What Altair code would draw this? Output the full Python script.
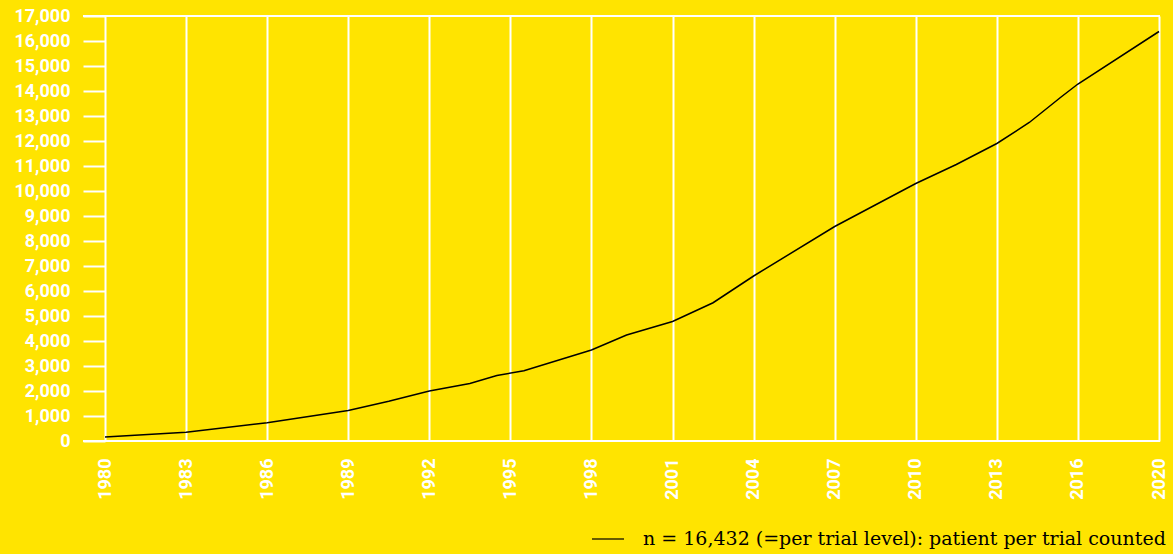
import altair as alt
import pandas as pd
import jinja2

# Data
years = [1980, 1983, 1986, 1989, 1990.5, 1992, 1993.5, 1994.5, 1995.5, 1998,
         1999.3, 2001, 2002.5, 2004, 2007, 2010, 2011.5, 2013, 2014.2, 2015.4,
         2016, 2019]
patients = [160, 350, 730, 1220, 1590, 2000, 2300, 2620, 2810, 3640,
            4240, 4780, 5530, 6600, 8580, 10300, 11060, 11900, 12740, 13780,
            14280, 16380]
series_name = "n = 16,432 (=per trial level): patient per trial counted"

x_ticks = [1980, 1983, 1986, 1989, 1992, 1995, 1998, 2001, 2004, 2007, 2010, 2013, 2016, 2019]
y_ticks = list(range(0, 17001, 1000))
frame_lines = [0, 17000]

BG = "#FFE400"
AXIS_FONT = "Roboto"

df = pd.DataFrame({"year": years, "patients": patients, "series": series_name})
frame_df = pd.DataFrame({"v": frame_lines})

x_scale = alt.Scale(domain=[1980, 2019], nice=False, zero=False)
y_scale = alt.Scale(domain=[0, 17000], nice=False)

y_axis = alt.Axis(values=y_ticks, format=",.0f", grid=False, domain=False,
                  ticks=True, tickSize=22, tickColor="white", tickWidth=2,
                  labelColor="white", labelFont=AXIS_FONT, labelFontWeight="bold",
                  labelFontSize=18, labelPadding=13)

line = alt.Chart(df).mark_line(strokeWidth=1.5).encode(
    x=alt.X("year:Q", scale=x_scale, title=None,
            axis=alt.Axis(values=x_ticks, format="d",
                          labelExpr="datum.value == 2019 ? '2020' : datum.label",
                          grid=True, gridColor="white", gridWidth=2, gridOpacity=1,
                          ticks=False, domain=False, labelAngle=270,
                          labelColor="white", labelFont=AXIS_FONT, labelFontWeight="bold",
                          labelFontSize=18, labelPadding=17)),
    y=alt.Y("patients:Q", scale=y_scale, title=None, axis=y_axis),
    color=alt.Color("series:N", scale=alt.Scale(range=["black"]),
                    legend=alt.Legend(title=None, orient="none", legendX=486, legendY=506,
                                      symbolType="stroke", symbolSize=1024,
                                      symbolStrokeWidth=1.2, symbolStrokeColor="black",
                                      labelFont="DejaVu Serif", labelFontSize=19,
                                      labelColor="black", labelLimit=0, labelOffset=18)),
)

frame = alt.Chart(frame_df).mark_rule(color="white", strokeWidth=2).encode(
    y=alt.Y("v:Q", scale=y_scale, title=None, axis=y_axis),
    x=alt.value(-22),
    x2=alt.value(1055),
)

chart = alt.layer(line, frame).properties(
    width=1054, height=425,
    autosize="none",
    padding={"left": 105, "top": 16, "right": 14, "bottom": 113},
    background=BG,
).configure_view(stroke=None)

PAGE = jinja2.Template("""<!DOCTYPE html>
<html>
<head>
  <style>
    html, body { background: """ + BG + """; margin: 0; padding: 0; overflow: hidden; }
  </style>
  <script type="text/javascript" src="{{ base_url }}/vega@{{ vega_version }}"></script>
  <script type="text/javascript" src="{{ base_url }}/vega-lite@{{ vegalite_version }}"></script>
  <script type="text/javascript" src="{{ base_url }}/vega-embed@{{ vegaembed_version }}"></script>
</head>
<body>
  <div id="{{ output_div }}"></div>
  <script type="text/javascript">
    var spec = {{ spec }};
    var embedOpt = {{ embed_options }};
    vegaEmbed("#{{ output_div }}", spec, embedOpt).catch(console.error);
  </script>
</body>
</html>
""")

chart.save("out.html", embed_options={"renderer": "svg", "actions": False}, template=PAGE)
